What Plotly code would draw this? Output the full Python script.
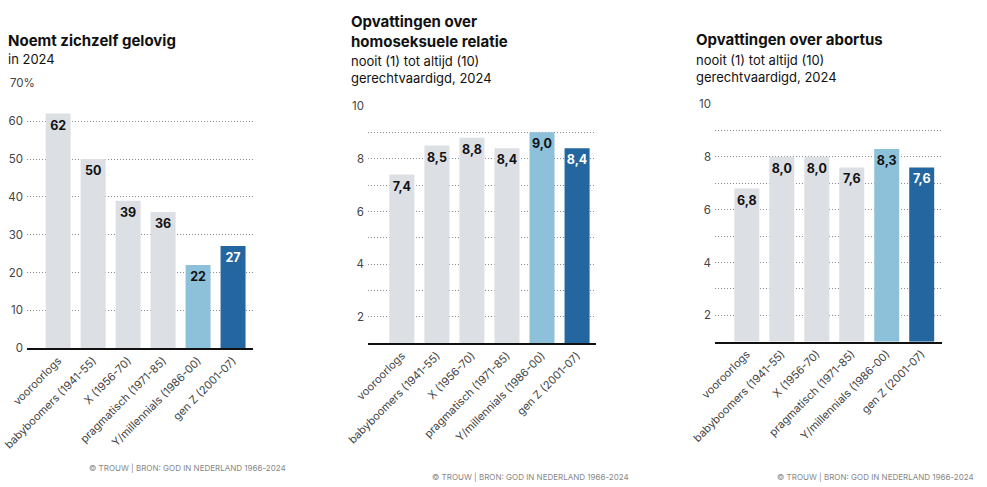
import plotly.graph_objects as go
from plotly.subplots import make_subplots

# data
generaties = ["vooroorlogs", "babyboomers (1941-55)", "X (1956-70)",
              "pragmatisch (1971-85)", "Y/millennials (1986-00)", "gen Z (2001-07)"]
gelovig = [62, 50, 39, 36, 22, 27]
homo = [7.4, 8.5, 8.8, 8.4, 9.0, 8.4]
abortus = [6.8, 8.0, 8.0, 7.6, 8.3, 7.6]

ticks_pct = [0, 10, 20, 30, 40, 50, 60, 70]
ticks_schaal = [2, 3, 4, 5, 6, 7, 8, 9, 10]

GRIJS = "#dcdfe4"
LICHTBLAUW = "#8cc1d9"
DONKERBLAUW = "#2366a0"
kleuren = [GRIJS, GRIJS, GRIJS, GRIJS, LICHTBLAUW, DONKERBLAUW]
tekstkleuren = ["#111", "#111", "#111", "#111", "#111", "white"]

FONT = "Inter"
W, H = 987, 487

def px(x):
    return x / W

def py(y):
    return 1 - y / H

fig = make_subplots(rows=1, cols=3)

def nl(v, dec):
    return f"{v:.{dec}f}".replace(".", ",")

panels = [(gelovig, 0, 1, 0), (homo, 1, 2, 1), (abortus, 1, 3, 1)]
for vals, base, col, dec in panels:
    fig.add_trace(go.Bar(x=generaties, y=[v - base for v in vals], base=base,
                         marker=dict(color=kleuren, line=dict(width=0)),
                         width=0.714, hoverinfo="skip", showlegend=False),
                  row=1, col=col)
    # waarde-labels net onder de bovenkant van elke staaf
    fig.add_trace(go.Scatter(x=generaties, y=vals, mode="markers+text",
                             marker=dict(size=9, opacity=0),
                             text=[nl(v, dec) for v in vals],
                             textposition="bottom center",
                             textfont=dict(family=FONT, size=12.5, color=tekstkleuren, weight="bold"),
                             hoverinfo="skip", showlegend=False, cliponaxis=False),
                  row=1, col=col)

tickfont = dict(family=FONT, size=11.5, color="#444")
xcommon = dict(type="category", tickangle=-45, tickfont=dict(family=FONT, size=11, color="#444"),
               showgrid=False, showline=True, linecolor="#111", linewidth=1.5,
               ticks="", zeroline=False, fixedrange=True, automargin=False)
ycommon = dict(showgrid=True, gridcolor="#8a8a8a", griddash="1px,2px", gridwidth=1,
               zeroline=False, showline=False, ticks="", tickfont=tickfont,
               ticklabelstandoff=3, fixedrange=True, automargin=False)

fig.update_layout(
    width=W, height=H, margin=dict(l=0, r=0, t=0, b=0, autoexpand=False),
    paper_bgcolor="white", plot_bgcolor="white",
    font=dict(family=FONT, color="#111"),
    xaxis=dict(xcommon, domain=[px(27), px(253)], range=[-0.89, 5.57]),
    xaxis2=dict(xcommon, domain=[px(368), px(596)], range=[-0.966, 5.54]),
    xaxis3=dict(xcommon, domain=[px(715), px(942)], range=[-0.91, 5.58]),
    yaxis=dict(ycommon, domain=[py(348.3), py(83.3)], range=[0, 70],
               tickvals=ticks_pct, ticktext=[str(t) if t < 70 else "" for t in ticks_pct]),
    yaxis2=dict(ycommon, domain=[py(343.3), py(106)], range=[1, 10],
                tickvals=ticks_schaal, ticktext=[str(t) if t % 2 == 0 else "" for t in ticks_schaal]),
    yaxis3=dict(ycommon, domain=[py(341.7), py(104)], range=[1, 10],
                tickvals=ticks_schaal, ticktext=[str(t) if t % 2 == 0 else "" for t in ticks_schaal]),
)

def tekst(s, x, y, size, bold=False, color="#111", anchor="left", bg=None):
    fig.add_annotation(text=s, x=px(x), y=py(y), xref="paper", yref="paper",
                       xanchor=anchor, yanchor="middle", showarrow=False, align="left",
                       font=dict(family=FONT, size=size, color=color,
                                 weight="bold" if bold else "normal"),
                       bgcolor=bg, borderpad=0)

# titels
tekst("Noemt zichzelf gelovig", 7, 40.5, 15, bold=True)
tekst("in 2024", 7, 59, 13)
tekst("70%", 9, 83.3, 11.5, color="#444", bg="white")

tekst("Opvattingen over<br>homoseksuele relatie", 350, 31, 15, bold=True)
tekst("nooit (1) tot altijd (10)<br>gerechtvaardigd, 2024", 350, 69.5, 13)

tekst("Opvattingen over abortus", 695, 39, 15, bold=True)
tekst("nooit (1) tot altijd (10)<br>gerechtvaardigd, 2024", 695, 68.5, 13)

# bronvermelding
bron = "© TROUW | BRON: GOD IN NEDERLAND 1966-2024"
tekst(bron, 287, 468.3, 8, color="#888", anchor="right")
tekst(bron, 630, 476.7, 8, color="#888", anchor="right")
tekst(bron, 975, 476.7, 8, color="#888", anchor="right")

# standaard body-marge van de pagina weghalen zodat de figuur precies in het venster past
fig.write_html("out.html", config={"displayModeBar": False},
               post_script="document.body.style.margin='0';")
